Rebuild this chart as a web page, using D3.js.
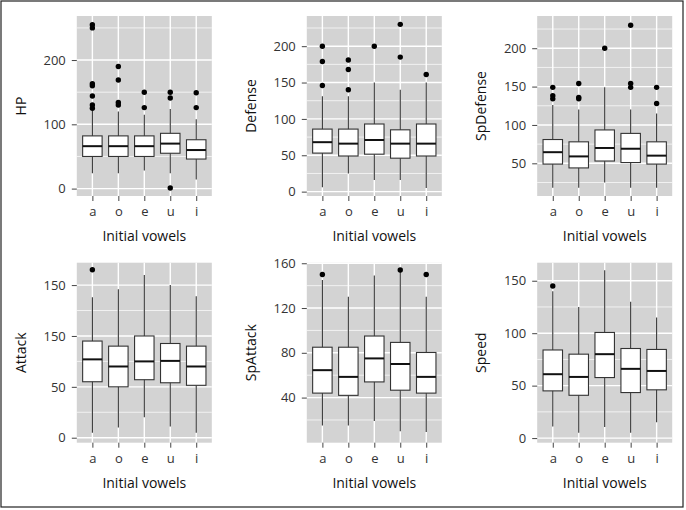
<!DOCTYPE html>
<html>
<head>
<meta charset="utf-8">
<script src="https://cdn.jsdelivr.net/npm/d3@7"></script>
<style>
  html, body { margin: 0; padding: 0; background: #fff; }
  svg { display: block; }
  text { font-family: "Open Sans", "Noto Sans", sans-serif; }
</style>
</head>
<body>
<svg id="chart" width="686" height="510"></svg>
<script>
// ---------- DATA ----------
const categories = ["a", "o", "e", "u", "i"];
const xTitle = "Initial vowels";

// HP
const hpQ1 = [50, 50, 50, 55, 46];
const hpMedian = [66, 66, 66, 70, 60];
const hpQ3 = [82, 82, 82, 86, 76];
const hpLow = [24, 24, 28, 24, 14];
const hpHigh = [121, 120, 115, 124, 108];
const hpOutliers = [[255, 250, 163, 160, 144, 130, 125], [190, 169, 134, 130], [150, 126], [150, 141, 1], [149, 126]];
const hpTicks = [0, 100, 200];
const hpTickLabels = ["0", "100", "200"];
const hpDomain = [-11.5, 268.5];

// Defense
const defQ1 = [53, 49, 51.5, 46, 49];
const defMedian = [68, 66, 71, 66, 66];
const defQ3 = [86, 86, 93, 85, 93];
const defLow = [6, 25, 16, 16, 5];
const defHigh = [131, 131, 150, 140, 150];
const defOutliers = [[200, 179, 146], [181, 168, 140], [200], [230, 185], [161]];
const defTicks = [0, 50, 100, 150, 200];
const defTickLabels = ["0", "50", "100", "150", "200"];
const defDomain = [-6, 241.5];

// SpDefense
const spdQ1 = [49, 44, 53, 51, 49];
const spdMedian = [64.5, 59, 70, 69, 60];
const spdQ3 = [81, 78, 93.5, 89, 78];
const spdLow = [18, 18, 25, 18, 18];
const spdHigh = [126, 120, 149, 120, 115];
const spdOutliers = [[149, 138, 134], [154, 136, 134], [200], [230, 154, 149], [149, 128]];
const spdTicks = [50, 100, 150, 200];
const spdTickLabels = ["50", "100", "150", "200"];
const spdDomain = [7.4, 242];

// Attack
const atkQ1 = [55, 50, 57, 54, 51.5];
const atkMedian = [77, 70, 75, 75.5, 70];
const atkQ3 = [95, 90, 100, 92.6, 90];
const atkLow = [5, 10, 20, 11, 5];
const atkHigh = [138, 146, 160, 150, 139];
const atkOutliers = [[165], [], [], [], []];
const atkTicks = [0, 50, 100, 150];
const atkTickLabels = ["0", "50", "150", "150"];
const atkDomain = [-4.9, 172];

// SpAttack
const spaQ1 = [44, 42, 54, 46.6, 44];
const spaMedian = [64.5, 58.5, 75, 70, 58.5];
const spaQ3 = [85, 85, 95, 89.3, 80.3];
const spaLow = [15, 15, 19, 10, 9.3];
const spaHigh = [145, 130, 149, 152.5, 130];
const spaOutliers = [[150], [], [], [154], [150]];
const spaTicks = [40, 80, 120, 160];
const spaTickLabels = ["40", "80", "120", "160"];
const spaDomain = [-0.3, 160.5];

// Speed
const spdsQ1 = [45, 40.8, 57.7, 43.4, 46];
const spdsMedian = [60.9, 58.3, 80, 66, 64];
const spdsQ3 = [84, 80, 100.7, 85.4, 84.5];
const spdsLow = [11, 5, 10.5, 5, 15];
const spdsHigh = [140, 125, 160, 130, 115];
const spdsOutliers = [[145], [], [], [], []];
const spdsTicks = [0, 50, 100, 150];
const spdsTickLabels = ["0", "50", "100", "150"];
const spdsDomain = [-4.4, 167.2];

const panels = [
  {title: "HP", q1: hpQ1, med: hpMedian, q3: hpQ3, lo: hpLow, hi: hpHigh, out: hpOutliers, ticks: hpTicks, labels: hpTickLabels, domain: hpDomain},
  {title: "Defense", q1: defQ1, med: defMedian, q3: defQ3, lo: defLow, hi: defHigh, out: defOutliers, ticks: defTicks, labels: defTickLabels, domain: defDomain},
  {title: "SpDefense", q1: spdQ1, med: spdMedian, q3: spdQ3, lo: spdLow, hi: spdHigh, out: spdOutliers, ticks: spdTicks, labels: spdTickLabels, domain: spdDomain},
  {title: "Attack", q1: atkQ1, med: atkMedian, q3: atkQ3, lo: atkLow, hi: atkHigh, out: atkOutliers, ticks: atkTicks, labels: atkTickLabels, domain: atkDomain},
  {title: "SpAttack", q1: spaQ1, med: spaMedian, q3: spaQ3, lo: spaLow, hi: spaHigh, out: spaOutliers, ticks: spaTicks, labels: spaTickLabels, domain: spaDomain},
  {title: "Speed", q1: spdsQ1, med: spdsMedian, q3: spdsQ3, lo: spdsLow, hi: spdsHigh, out: spdsOutliers, ticks: spdsTicks, labels: spdsTickLabels, domain: spdsDomain}
];

// ---------- LAYOUT ----------
const colX = [76.8, 306.8, 537.2];
const rowY = [16, 262.7];
const pw = 135, ph = 180;
const bg = "#d3d3d3";

const svg = d3.select("#chart");
svg.append("rect").attr("x", 1).attr("y", 1).attr("width", 682).attr("height", 506)
  .attr("fill", "#fff").attr("stroke", "#222").attr("stroke-width", 1.2);

panels.forEach((p, i) => {
  const x0 = colX[i % 3], y0 = rowY[Math.floor(i / 3)];
  const g = svg.append("g").attr("transform", `translate(${x0},${y0})`);
  const x = d3.scalePoint().domain(categories).range([0, pw]).padding(0.6);
  const y = d3.scaleLinear().domain(p.domain).range([ph, 0]);
  const step = x.step();
  const bw = step * 0.75;

  g.append("rect").attr("width", pw).attr("height", ph).attr("fill", bg);

  // minor grid
  const minor = [];
  const tstep = p.ticks[1] - p.ticks[0];
  for (let v = p.ticks[0] - tstep / 2; v <= p.domain[1]; v += tstep) {
    if (v >= p.domain[0]) minor.push(v);
  }
  g.selectAll(".minor").data(minor).join("line")
    .attr("x1", 0).attr("x2", pw).attr("y1", d => y(d)).attr("y2", d => y(d))
    .attr("stroke", "#fff").attr("stroke-width", 0.7);
  // major grid
  g.selectAll(".majorY").data(p.ticks).join("line")
    .attr("x1", 0).attr("x2", pw).attr("y1", d => y(d)).attr("y2", d => y(d))
    .attr("stroke", "#fff").attr("stroke-width", 1.4);
  g.selectAll(".majorX").data(categories).join("line")
    .attr("x1", d => x(d)).attr("x2", d => x(d)).attr("y1", 0).attr("y2", ph)
    .attr("stroke", "#fff").attr("stroke-width", 1.4);

  // axes
  const yAxis = d3.axisLeft(y).tickValues(p.ticks).tickFormat((d, k) => p.labels[k])
    .tickSize(5).tickPadding(6);
  const ya = g.append("g").call(yAxis);
  ya.select(".domain").remove();
  ya.selectAll("line").attr("stroke", "#444").attr("stroke-width", 1);
  ya.selectAll("text").attr("font-size", 13).attr("fill", "#333")
    .attr("font-family", "'Open Sans', sans-serif");

  const xAxis = d3.axisBottom(x).tickSize(5).tickPadding(6);
  const xa = g.append("g").attr("transform", `translate(0,${ph})`).call(xAxis);
  xa.select(".domain").remove();
  xa.selectAll("line").attr("stroke", "#444").attr("stroke-width", 1);
  xa.selectAll("text").attr("font-size", 13).attr("fill", "#333")
    .attr("font-family", "'Open Sans', sans-serif");

  // boxes
  const idx = d3.range(categories.length);
  const bx = g.append("g");
  bx.selectAll(".wh").data(idx).join("line")
    .attr("x1", k => x(categories[k])).attr("x2", k => x(categories[k]))
    .attr("y1", k => y(p.hi[k])).attr("y2", k => y(p.lo[k]))
    .attr("stroke", "#333").attr("stroke-width", 1.1);
  bx.selectAll(".box").data(idx).join("rect")
    .attr("x", k => x(categories[k]) - bw / 2).attr("width", bw)
    .attr("y", k => y(p.q3[k])).attr("height", k => y(p.q1[k]) - y(p.q3[k]))
    .attr("fill", "#fff").attr("stroke", "#333").attr("stroke-width", 1.1);
  bx.selectAll(".med").data(idx).join("line")
    .attr("x1", k => x(categories[k]) - bw / 2).attr("x2", k => x(categories[k]) + bw / 2)
    .attr("y1", k => y(p.med[k])).attr("y2", k => y(p.med[k]))
    .attr("stroke", "#111").attr("stroke-width", 2);
  const pts = [];
  p.out.forEach((arr, k) => arr.forEach(v => pts.push({c: categories[k], v})));
  bx.selectAll(".out").data(pts).join("circle")
    .attr("cx", d => x(d.c)).attr("cy", d => y(d.v)).attr("r", 2.7).attr("fill", "#000");

  // titles
  g.append("text").attr("x", pw / 2).attr("y", ph + 45)
    .attr("text-anchor", "middle").attr("font-size", 14).attr("fill", "#111")
    .text(xTitle);
  g.append("text").attr("transform", `translate(-51,${ph / 2}) rotate(-90)`)
    .attr("text-anchor", "middle").attr("font-size", 14).attr("fill", "#111")
    .text(p.title);
});
</script>
</body>
</html>
